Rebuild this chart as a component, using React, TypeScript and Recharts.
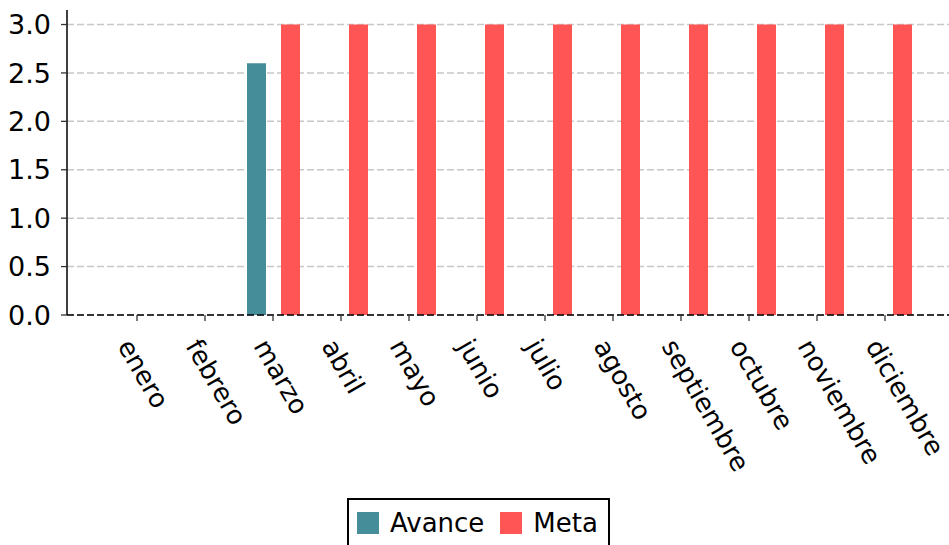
import { Bar, BarChart, CartesianGrid, Legend, XAxis, YAxis } from 'recharts'

const months = [
  'enero',
  'febrero',
  'marzo',
  'abril',
  'mayo',
  'junio',
  'julio',
  'agosto',
  'septiembre',
  'octubre',
  'noviembre',
  'diciembre',
]
const avance: (number | null)[] = [null, null, 2.6, null, null, null, null, null, null, null, null, null]
const meta: (number | null)[] = [null, null, 3, 3, 3, 3, 3, 3, 3, 3, 3, 3]
const yTicks = [0, 0.5, 1, 1.5, 2, 2.5, 3]

const rows = months.map((m, i) => ({ mes: m, Avance: avance[i], Meta: meta[i] }))

const FONT = '"DejaVu Sans", Verdana, sans-serif'
const TEAL = '#468d9a'
const RED = '#ff5555'

function MonthTick(props: any) {
  const { x, y, payload } = props
  return (
    <g transform={`translate(${x - 20},${y + 23}) rotate(60)`}>
      <text x={0} y={0} textAnchor="start" fill="#000" fontSize={26} fontFamily={FONT}>
        {payload.value}
      </text>
    </g>
  )
}

function LegendBox() {
  const item = (color: string, label: string, gap: number) => (
    <span style={{ display: 'inline-flex', alignItems: 'center', marginRight: gap }}>
      <span style={{ width: 22, height: 22, background: color, display: 'inline-block', marginRight: 11 }} />
      <span style={{ fontSize: 26, color: '#000' }}>{label}</span>
    </span>
  )
  return (
    <div
      style={{
        boxSizing: 'border-box',
        width: 263,
        height: 50,
        border: '2px solid #000',
        padding: '0 0 0 8px',
        display: 'flex',
        alignItems: 'center',
        fontFamily: FONT,
        background: '#fff',
      }}
    >
      {item(TEAL, 'Avance', 16)}
      {item(RED, 'Meta', 0)}
    </div>
  )
}

export default function App() {
  return (
    <div style={{ position: 'absolute', left: 0, top: 0, width: 949, height: 545, overflow: 'hidden', background: '#fff' }}>
      <BarChart
        width={949}
        height={545}
        data={rows}
        margin={{ top: 10, right: 0, left: 7, bottom: 0 }}
        barSize={19}
        barGap={15}
      >
        <CartesianGrid
          vertical={false}
          horizontalValues={yTicks}
          stroke="#c8c8c8"
          strokeWidth={1.5}
          strokeDasharray="7 3"
        />
        <XAxis
          dataKey="mes"
          interval={0}
          height={180}
          padding={{ left: 36, right: 30 }}
          axisLine={{ stroke: '#000', strokeWidth: 1.5, strokeDasharray: '7 3' }}
          tickLine={{ stroke: '#333', strokeWidth: 1.3 }}
          tickSize={6}
          tick={<MonthTick />}
        />
        <YAxis
          width={60}
          domain={[0, 3.15]}
          ticks={yTicks}
          interval={0}
          tickFormatter={(v: number) => v.toFixed(1)}
          axisLine={{ stroke: '#000', strokeWidth: 1.5 }}
          tickLine={{ stroke: '#333', strokeWidth: 1.3 }}
          tickSize={6}
          tickMargin={10}
          tick={{ fill: '#000', fontSize: 27, fontFamily: FONT }}
        />
        <Legend
          verticalAlign="bottom"
          content={() => <LegendBox />}
          wrapperStyle={{ left: 347, top: 498, bottom: 'auto', width: 'auto' }}
        />
        <Bar dataKey="Avance" fill={TEAL} isAnimationActive={false} />
        <Bar dataKey="Meta" fill={RED} isAnimationActive={false} />
      </BarChart>
    </div>
  )
}
